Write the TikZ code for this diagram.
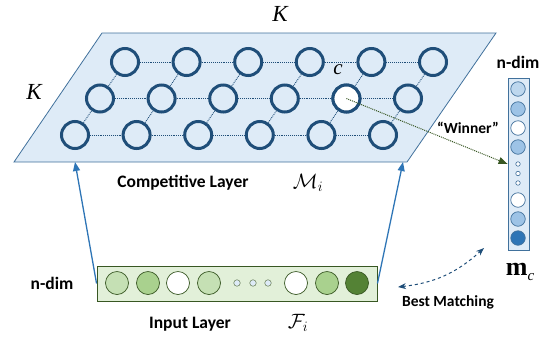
\documentclass[tikz,border=0pt]{standalone}
\usepackage{fontspec}
\setmainfont{Carlito}
\newfontfamily\timesfont{Liberation Serif}
\usetikzlibrary{arrows.meta}
\definecolor{planeblue}{HTML}{DEEBF7}
\definecolor{planeedge}{HTML}{41719C}
\definecolor{ringblue}{HTML}{1F4E79}
\definecolor{celledge}{HTML}{41719C}
\definecolor{lightblue}{HTML}{BDD7EE}
\definecolor{midblue}{HTML}{9DC3E6}
\definecolor{darkblue}{HTML}{2E75B6}
\definecolor{arrowblue}{HTML}{2E75B6}
\definecolor{inputgreen}{HTML}{E2F0D9}
\definecolor{greenedge}{HTML}{385723}
\definecolor{lightgreen}{HTML}{C5E0B4}
\definecolor{midgreen}{HTML}{A9D18E}
\definecolor{darkgreen}{HTML}{548235}
\begin{document}
\begin{tikzpicture}[
    x=1pt, y=-1pt,
    plane/.style={draw=planeedge, fill=planeblue, line width=0.8pt},
    unit/.style={circle, draw=ringblue, line width=3pt, minimum size=27pt, inner sep=0pt},
    gridline/.style={densely dotted, draw=ringblue, line width=0.9pt},
    vcell/.style={circle, draw=celledge, line width=0.7pt, minimum size=14.5pt, inner sep=0pt},
    vdot/.style={circle, draw=celledge, fill=white, line width=0.6pt, minimum size=4.5pt, inner sep=0pt},
    icell/.style={circle, draw=greenedge, line width=0.7pt, minimum size=23pt, inner sep=0pt},
    idot/.style={circle, draw=greenedge!70, fill=planeblue, line width=0.6pt, minimum size=6.5pt, inner sep=0pt},
    lbl/.style={inner sep=0pt, font=\fontsize{17.5}{19}\selectfont\bfseries},
    smalllbl/.style={inner sep=0pt, font=\fontsize{15.5}{17}\selectfont\bfseries},
    feed/.style={-{Triangle[length=9pt,width=7pt]}, draw=arrowblue, line width=1.3pt},
    winarrow/.style={-{Triangle[length=9pt,width=7pt]}, densely dotted, draw=greenedge, line width=1pt},
    match/.style={{Stealth[length=8pt,width=6pt]}-{Stealth[length=8pt,width=6pt]}, dashed, draw=ringblue, line width=1pt}
  ]
    \useasboundingbox (0,0) rectangle (548,346);
    \coordinate (nw) at (102,33);
    \coordinate (ne) at (496,33);
    \coordinate (se) at (407,162);
    \coordinate (sw) at (14,162);
    \draw[plane] (nw) -- (ne) -- (se) -- (sw) -- cycle;
    \foreach \r/\xs/\yr in {1/125/62, 2/100/98.5, 3/75/135} {
      \foreach \c in {1,...,6} {
        \node[unit, fill=planeblue] (u\r\c) at ({\xs+(\c-1)*61.6}, \yr) {};
      }
    }
    \node[unit, fill=white] (u25) at (u25) {};
    \foreach \r in {1,2,3} {
      \foreach \c in {1,...,5} {
        \pgfmathtruncatemacro\nc{\c+1}
        \draw[gridline] (u\r\c) -- (u\r\nc);
      }
    }
    \foreach \r in {1,2} {
      \foreach \c in {1,...,6} {
        \pgfmathtruncatemacro\nr{\r+1}
        \draw[gridline] (u\r\c) -- (u\nr\c);
      }
    }
    \node[inner sep=0pt, font=\timesfont\itshape\fontsize{23}{25}\selectfont] (kTop) at (280,14) {K};
    \node[inner sep=0pt, font=\timesfont\itshape\fontsize{23}{25}\selectfont] (kLeft) at (34,92) {K};
    \node[inner sep=0pt, font=\timesfont\itshape\fontsize{21}{23}\selectfont] (cLbl) at (338,70) {c};
    \node[lbl] (compLbl) at (183,183) {Competitive Layer};
    \node[inner sep=0pt] (mLbl) at (308,183) {\fontsize{21}{23}\selectfont$\mathcal{M}_{i}$};

    % column vector of the winner
    \node[rectangle, draw=celledge, fill=planeblue, line width=0.9pt, minimum width=21pt, minimum height=172pt, inner sep=0pt] (col) at (518.5,164) {};
    \foreach \y/\clr [count=\i] in {89/lightblue, 109/midblue, 128/white, 147/midblue, 200/white, 219/midblue, 238/darkblue} {
      \node[vcell, fill=\clr] (v\i) at (518,\y) {};
    }
    \foreach \y [count=\i] in {164,173.5,183} {
      \node[vdot] (vd\i) at (518,\y) {};
    }
    \node[lbl] (ndimR) at (518,62) {n-dim};
    \node[inner sep=0pt] (mc) at (520,272) {\timesfont\bfseries\fontsize{26}{28}\selectfont m\raisebox{-5pt}{\fontsize{15}{16}\selectfont\mdseries\itshape c}};
    \node[smalllbl] (winLbl) at (468,128) {“Winner”};

    % input layer
    \node[rectangle, draw=greenedge, fill=inputgreen, line width=0.9pt, minimum width=280pt, minimum height=35pt, inner sep=0pt] (inp) at (237,283.5) {};
    \foreach \x/\clr [count=\i] in {117/lightgreen, 148/midgreen, 178/white, 209/lightgreen, 296/white, 327/midgreen, 357/darkgreen} {
      \node[icell, fill=\clr] (x\i) at (\x,283) {};
    }
    \foreach \x [count=\i] in {237,253,268} {
      \node[idot] (xd\i) at (\x,283) {};
    }
    \node[lbl] (ndimL) at (52,283) {n-dim};
    \node[lbl] (inLbl) at (190,324) {Input Layer};
    \node[inner sep=0pt] (fLbl) at (298,323) {\fontsize{21}{23}\selectfont$\mathcal{F}_{i}$};
    \node[smalllbl] (bmLbl) at (448,302) {Best Matching};

    \coordinate (pl) at (75,162);
    \coordinate (pr) at (403,162);
    \draw[feed] (inp.west) -- (pl);
    \draw[feed] (inp.east) -- (pr);
    \draw[winarrow] (u25.center) -- (col.west);
    \coordinate (bmA) at (398,287);
    \coordinate (bmB) at (484,248);
    \draw[match] (bmA) to[bend right=18] (bmB);
  \end{tikzpicture}
\end{document}
